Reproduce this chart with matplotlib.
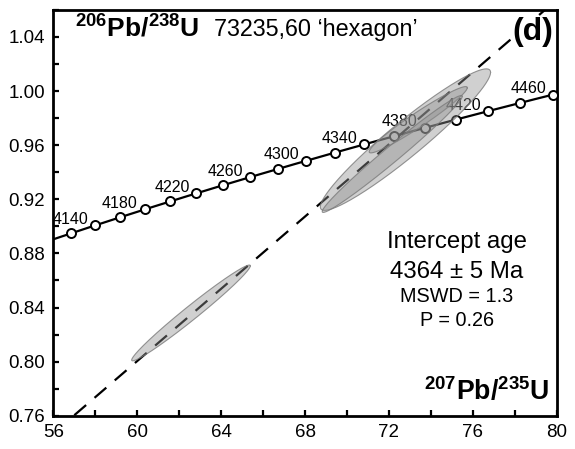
import numpy as np
import matplotlib
matplotlib.use("Agg")
import matplotlib.pyplot as plt
import matplotlib.ticker as mticker

plt.rcParams["font.family"] = ["Liberation Sans", "DejaVu Sans"]
plt.rcParams["mathtext.fontset"] = "custom"
plt.rcParams["mathtext.rm"] = "Liberation Sans"
plt.rcParams["mathtext.bf"] = "Liberation Sans:bold"

# decay constants (1/yr)
LAMBDA_238 = 1.55125e-10
LAMBDA_235 = 9.8485e-10

# concordia tick ages (Ma), labelled ones every 40 Ma
marker_ages = [4120, 4140, 4160, 4180, 4200, 4220, 4240, 4260, 4280, 4300,
               4320, 4340, 4360, 4380, 4400, 4420, 4440, 4460]
label_ages = [4140, 4180, 4220, 4260, 4300, 4340, 4380, 4420, 4460]

# discordia: lower and upper intercept ages (Ma)
intercept_ages = [0, 4364]

# error ellipses: centre, half extent in x / y, correlation
ell_x = [62.56, 72.79, 73.40, 72.16]
ell_y = [0.836, 0.9641, 0.9788, 0.9535]
ell_hx = [2.83, 4.06, 2.34, 3.34]
ell_hy = [0.0354, 0.0523, 0.0245, 0.0432]
ell_rho = [0.983, 0.95, 0.965, 0.985]


def concordia(age_ma):
    t = np.asarray(age_ma, dtype=float) * 1e6
    return np.exp(LAMBDA_235 * t) - 1, np.exp(LAMBDA_238 * t) - 1


fig = plt.figure(figsize=(5.75, 4.49), dpi=100)
ax = fig.add_axes([0.093, 0.074, 0.875, 0.904])

# concordia curve
cx, cy = concordia(np.linspace(4000, 4550, 400))
ax.plot(cx, cy, color="black", lw=1.6, zorder=2)
mx, my = concordia(marker_ages)
ax.plot(mx, my, "o", ms=6.5, mfc="white", mec="black", mew=1.4, zorder=3,
        clip_on=False)
for age in label_ages:
    lx, ly = concordia(age)
    ax.annotate(str(age), (lx, ly), xytext=(-5, 1), textcoords="offset points",
                ha="right", va="baseline", fontsize=11.5, zorder=2)

# discordia line
dx, dy = concordia(intercept_ages)
ax.plot(dx * [1, 1.2], [dy[0], dy[1] * 1.2], color="black", lw=1.6,
        linestyle=(0, (7, 5)), zorder=2)

# error ellipses
tt = np.linspace(0, 2 * np.pi, 300)
for i in [1, 0, 2, 3]:
    ex = ell_x[i] + ell_hx[i] * np.cos(tt)
    ey = ell_y[i] + ell_hy[i] * (ell_rho[i] * np.cos(tt)
                                 + np.sqrt(1 - ell_rho[i] ** 2) * np.sin(tt))
    ax.fill(ex, ey, facecolor="#909090", alpha=0.42, edgecolor="none", zorder=4)
    ax.plot(ex, ey, color="#7a7a7a", lw=0.8, alpha=0.8, zorder=4)

ax.set_xlim(56, 80)
ax.set_ylim(0.76, 1.06)
ax.xaxis.set_major_locator(mticker.MultipleLocator(4))
ax.xaxis.set_minor_locator(mticker.MultipleLocator(2))
ax.yaxis.set_major_locator(mticker.FixedLocator(np.arange(0.76, 1.041, 0.04)))
ax.yaxis.set_minor_locator(mticker.FixedLocator(np.arange(0.78, 1.061, 0.04)))
ax.yaxis.set_major_formatter(mticker.StrMethodFormatter("{x:.2f}"))
ax.tick_params(which="both", direction="in", length=4, width=1.6,
               labelsize=13.5, pad=6)
for sp in ax.spines.values():
    sp.set_linewidth(2)

ax.text(0.042, 0.935, r"$^{\mathbf{206}}\mathbf{Pb/}^{\mathbf{238}}\mathbf{U}$",
        transform=ax.transAxes, fontsize=19, va="baseline")
ax.text(0.32, 0.935, "73235,60 \u2018hexagon\u2019", transform=ax.transAxes,
        fontsize=16.8, va="baseline")
ax.text(0.993, 0.925, "(d)", transform=ax.transAxes, fontsize=23,
        fontweight="bold", ha="right", va="baseline",
        bbox=dict(facecolor="white", edgecolor="none", pad=1), zorder=5)
ax.text(0.985, 0.04, r"$^{\mathbf{207}}\mathbf{Pb/}^{\mathbf{235}}\mathbf{U}$",
        transform=ax.transAxes, fontsize=19.2, ha="right", va="baseline")

ax.text(0.802, 0.428, "Intercept age", transform=ax.transAxes, fontsize=17.3,
        ha="center", va="center")
ax.text(0.802, 0.355, "4364 \u00b1 5 Ma", transform=ax.transAxes, fontsize=17.3,
        ha="center", va="center")
ax.text(0.802, 0.293, "MSWD = 1.3", transform=ax.transAxes, fontsize=14.3,
        ha="center", va="center")
ax.text(0.802, 0.235, "P = 0.26", transform=ax.transAxes, fontsize=14.3,
        ha="center", va="center")

fig.savefig("out.png", dpi=100)
